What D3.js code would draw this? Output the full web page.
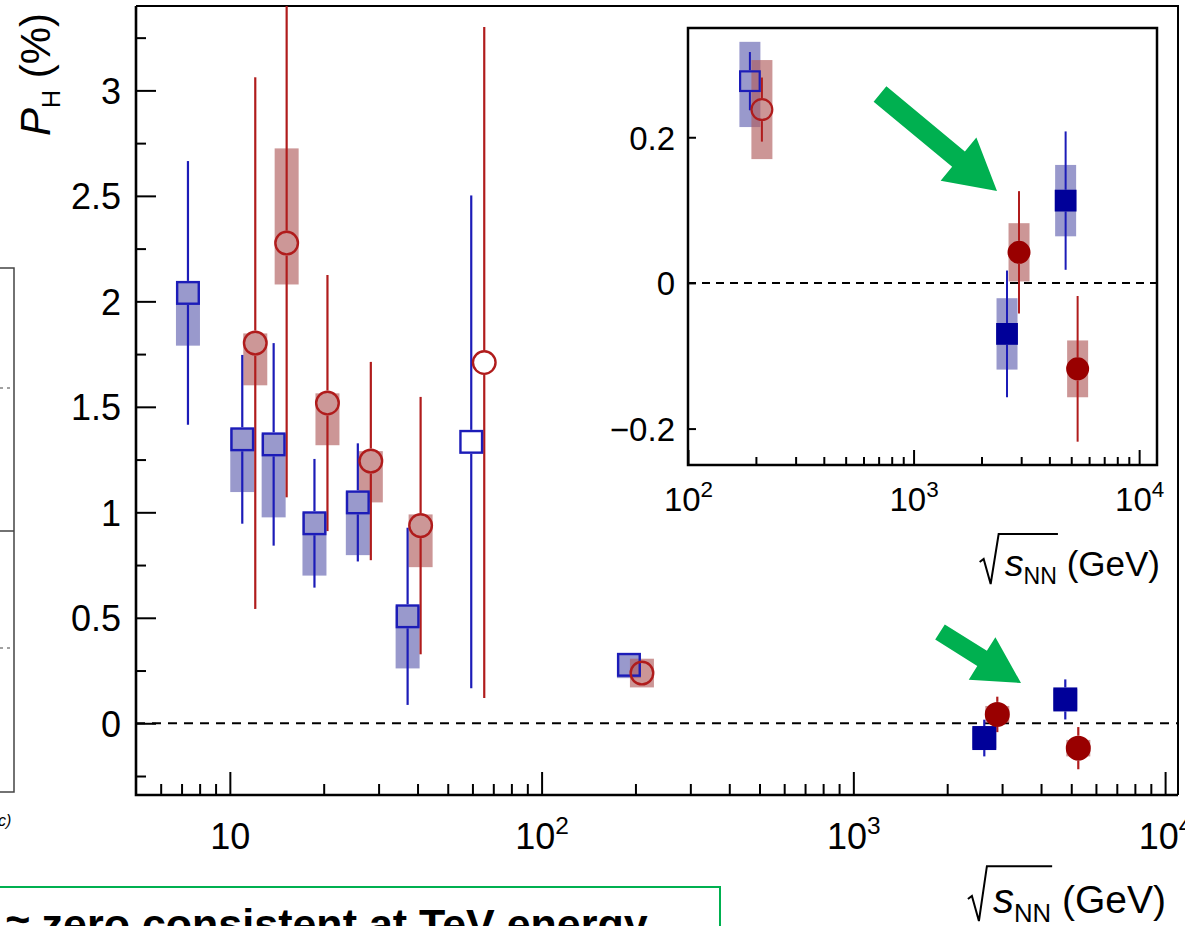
<!DOCTYPE html>
<html><head><meta charset="utf-8">
<script src="https://cdn.jsdelivr.net/npm/d3@7"></script>
<style>
html,body{margin:0;padding:0;background:#fff;overflow:hidden}
svg{display:block;font-family:"Liberation Sans",Arial,Helvetica,sans-serif}
</style></head><body>
<svg id="c" width="1185" height="926"></svg>
<script>
// Global hyperon polarization P_H (%) versus collision energy sqrt(s_NN)

// Lambda, beam-energy-scan points (filled light squares)
const lamEnergy = [7.7, 11.5, 14.5, 19.6, 27, 39];
const lamP      = [2.04, 1.346, 1.322, 0.948, 1.047, 0.507];
const lamStat   = [0.625, 0.40, 0.48, 0.305, 0.28, 0.42];
const lamSysUp  = [0.05, 0.05, 0.05, 0.05, 0.05, 0.05];
const lamSysDn  = [0.25, 0.25, 0.346, 0.248, 0.25, 0.247];

// anti-Lambda, beam-energy-scan points (filled light circles)
const alamEnergy = [11.5, 14.5, 19.6, 27, 39];
const alamP      = [1.802, 2.276, 1.518, 1.243, 0.937];
const alamStat   = [1.26, 1.205, 0.607, 0.47, 0.61];
const alamSysUp  = [0.046, 0.449, 0.046, 0.047, 0.053];
const alamSysDn  = [0.20, 0.196, 0.20, 0.196, 0.197];

// Lambda / anti-Lambda at 62.4 and 200 GeV (open markers)
const lamOpenEnergy  = [62.4, 200];
const lamOpenP       = [1.334, 0.277];
const lamOpenStat    = [1.168, 0.04];
const lamOpenSysUp   = [0, 0.054];
const lamOpenSysDn   = [0, 0.063];
const alamOpenEnergy = [62.4, 200];
const alamOpenP      = [1.71, 0.238];
const alamOpenStat   = [1.59, 0.044];
const alamOpenSysUp  = [0, 0.068];
const alamOpenSysDn  = [0, 0.068];

// Lambda / anti-Lambda at TeV energies (solid markers)
const lamTevEnergy  = [2760, 5020];
const lamTevP       = [-0.070, 0.113];
const lamTevStat    = [0.087, 0.095];
const lamTevSys     = [0.049, 0.049];
const alamTevEnergy = [2760, 5020];
const alamTevP      = [0.042, -0.118];
const alamTevStat   = [0.084, 0.10];
const alamTevSys    = [0.04, 0.039];

// axis ticks and labels
const mainYTicks   = [0, 0.5, 1, 1.5, 2, 2.5, 3];
const mainYLabels  = ["0", "0.5", "1", "1.5", "2", "2.5", "3"];
const mainXTicks   = [10, 100, 1000, 10000];
const mainXLabels  = [["10", ""], ["10", "2"], ["10", "3"], ["10", "4"]];
const insetYTicks  = [-0.2, 0, 0.2];
const insetYLabels = ["\u22120.2", "0", "0.2"];
const insetXTicks  = [100, 1000, 10000];
const insetXLabels = [["10", "2"], ["10", "3"], ["10", "4"]];
const noteText = "\u2248 zero consistent at TeV energy";

const C = {
  blueLine: "#1c1cb8", redLine: "#b01c1c",
  blueBox: "rgba(98,98,176,0.65)", redBox: "rgba(176,93,93,0.65)",
  blueFill: "#9999cc", redFill: "#cc9797",
  blueSolid: "#000099", redSolid: "#990000",
  green: "#00b050"
};

function series(E, P, stat, up, dn, shape, fill, stroke, line, box, side) {
  return E.map((e, i) => ({ e, p: P[i], s: stat[i], up: up[i], dn: dn[i],
    shape, fill, stroke, line, box, side }));
}
const points = [
  ...series(lamEnergy, lamP, lamStat, lamSysUp, lamSysDn, "sq", C.blueFill, C.blueLine, C.blueLine, C.blueBox, -1),
  ...series(alamEnergy, alamP, alamStat, alamSysUp, alamSysDn, "ci", C.redFill, C.redLine, C.redLine, C.redBox, 1),
  ...series(lamOpenEnergy, lamOpenP, lamOpenStat, lamOpenSysUp, lamOpenSysDn, "sq", "none", C.blueLine, C.blueLine, C.blueBox, -1),
  ...series(alamOpenEnergy, alamOpenP, alamOpenStat, alamOpenSysUp, alamOpenSysDn, "ci", "none", C.redLine, C.redLine, C.redBox, 1),
  ...series(lamTevEnergy, lamTevP, lamTevStat, lamTevSys, lamTevSys, "sq", C.blueSolid, C.blueSolid, C.blueLine, C.blueBox, -1),
  ...series(alamTevEnergy, alamTevP, alamTevStat, alamTevSys, alamTevSys, "ci", C.redSolid, C.redSolid, C.redLine, C.redBox, 1)
];

const svg = d3.select("#c");
svg.append("rect").attr("width", 1185).attr("height", 926).attr("fill", "#fff");
const defs = svg.append("defs");

// ---------- helpers ----------
function minorLog(lo, hi) {
  const out = [];
  for (let d = Math.pow(10, Math.floor(Math.log10(lo))); d < hi; d *= 10)
    for (let k = 2; k <= 9; k++) { const v = k * d; if (v > lo && v < hi) out.push(v); }
  return out;
}
function styleAxis(g, fs) {
  g.attr("font-family", null).attr("font-size", fs).attr("fill", null);
  g.select(".domain").remove();
  g.selectAll(".tick line").attr("stroke", "#000").attr("stroke-width", 2);
  g.selectAll(".tick text").attr("fill", "#000");
}
function powLabels(g, labels, fs, baseline) {
  g.selectAll(".tick text").each(function (d, i) {
    const t = d3.select(this).text(null).attr("y", baseline).attr("dy", null);
    t.append("tspan").text(labels[i][0]);
    if (labels[i][1]) t.append("tspan").attr("dy", -0.42 * fs).attr("font-size", fs * 0.68).text(labels[i][1]);
  });
}
function drawPoints(root, pts, x, y, cfg) {
  const gb = root.append("g"), gl = root.append("g"), gm = root.append("g");
  const cx = d => x(d.e) + d.side * cfg.off;
  gb.selectAll("rect").data(pts.filter(d => d.up + d.dn > 0)).join("rect")
    .attr("x", d => cx(d) - cfg.boxW / 2).attr("width", cfg.boxW)
    .attr("y", d => y(d.p + d.up)).attr("height", d => y(d.p - d.dn) - y(d.p + d.up))
    .attr("fill", d => d.box);
  // statistical bars stop at the marker edge
  const segs = [];
  pts.forEach(d => {
    const gap = (d.shape === "sq" ? cfg.half : cfg.r) + cfg.mlw / 2;
    const yc = y(d.p), yt = y(d.p + d.s), yb = y(d.p - d.s);
    if (yc - gap > yt) segs.push({ d, a: yt, b: yc - gap });
    if (yc + gap < yb) segs.push({ d, a: yc + gap, b: yb });
  });
  gl.selectAll("line").data(segs).join("line")
    .attr("x1", s => cx(s.d)).attr("x2", s => cx(s.d))
    .attr("y1", s => s.a).attr("y2", s => s.b)
    .attr("stroke", s => s.d.line).attr("stroke-width", cfg.lw);
  gm.selectAll("rect").data(pts.filter(d => d.shape === "sq")).join("rect")
    .attr("x", d => cx(d) - cfg.half).attr("y", d => y(d.p) - cfg.half)
    .attr("width", 2 * cfg.half).attr("height", 2 * cfg.half)
    .attr("fill", d => d.fill).attr("stroke", d => d.stroke).attr("stroke-width", cfg.mlw);
  gm.selectAll("circle").data(pts.filter(d => d.shape === "ci")).join("circle")
    .attr("cx", cx).attr("cy", d => y(d.p)).attr("r", cfg.r)
    .attr("fill", d => d.fill).attr("stroke", d => d.stroke).attr("stroke-width", cfg.mlw);
}
function sqrtTitle(g, xRight, base, fs) {
  const t = g.append("text").attr("y", base).attr("font-size", fs).attr("fill", "#000");
  t.append("tspan").attr("font-style", "italic").attr("font-size", fs * 1.08).text("s");
  t.append("tspan").attr("font-size", fs * 0.66).attr("dy", fs * 0.22).text("NN");
  t.append("tspan").attr("dy", -fs * 0.22).text("\u00a0(GeV)");
  const len = t.node().getComputedTextLength();
  const x0 = xRight - len;
  t.attr("x", x0);
  const xe = t.node().getEndPositionOfChar(2).x;
  const top = base - fs * 1.2;
  g.append("path")
    .attr("d", `M${x0 - 25},${base - 14} L${x0 - 21},${base - 17} L${x0 - 14},${base + 8} L${x0 - 6},${top} L${xe + 1},${top}`)
    .attr("fill", "none").attr("stroke", "#000").attr("stroke-width", 2);
}
function arrow(g, x0, y0, x1, y1, sw, hw, hl) {
  const L = Math.hypot(x1 - x0, y1 - y0), ux = (x1 - x0) / L, uy = (y1 - y0) / L;
  const px = -uy, py = ux, bx = x1 - ux * hl, by = y1 - uy * hl;
  const p = [[x0 + px * sw / 2, y0 + py * sw / 2], [bx + px * sw / 2, by + py * sw / 2],
             [bx + px * hw / 2, by + py * hw / 2], [x1, y1],
             [bx - px * hw / 2, by - py * hw / 2], [bx - px * sw / 2, by - py * sw / 2],
             [x0 - px * sw / 2, y0 - py * sw / 2]];
  g.append("polygon").attr("points", p.map(q => q.join(",")).join(" ")).attr("fill", C.green);
}

// ---------- neighbouring panel edge (left) ----------
const side = svg.append("g").attr("stroke", "#444").attr("stroke-width", 1.5).attr("fill", "none");
side.append("path").attr("d", "M-2,268 H14 V792 H-2 M-2,531 H14");
side.append("path").attr("d", "M0,388 H12 M0,648 H12").attr("stroke-dasharray", "3,4").attr("stroke-width", 1.2);
svg.append("text").attr("x", -2).attr("y", 826).attr("font-size", 16).attr("font-style", "italic").text("c)");

// ---------- main panel ----------
const xM = d3.scaleLog().domain([5, 11000]).range([136, 1178]);
const yM = d3.scaleLinear().domain([-0.34, 3.40]).range([795, 6]);
defs.append("clipPath").attr("id", "clipMain").append("rect")
  .attr("x", 136).attr("y", 6).attr("width", 1042).attr("height", 789);

const main = svg.append("g");
main.append("line").attr("x1", 136).attr("x2", 1178).attr("y1", yM(0)).attr("y2", yM(0))
  .attr("stroke", "#000").attr("stroke-width", 2).attr("stroke-dasharray", "9,7");

main.append("g").attr("transform", "translate(136,0)")
  .call(d3.axisLeft(yM).tickValues(mainYTicks).tickSizeInner(-20).tickSizeOuter(0).tickPadding(15)
    .tickFormat((d, i) => mainYLabels[i]))
  .call(g => styleAxis(g, 36))
  .call(g => g.selectAll(".tick text").attr("dy", "0.36em"));
main.append("g").attr("transform", "translate(136,0)")
  .call(d3.axisLeft(yM).tickValues(d3.range(-0.25, 3.4, 0.5)).tickSizeInner(-10).tickSizeOuter(0).tickFormat(""))
  .call(g => styleAxis(g, 10));
main.append("g").attr("transform", "translate(0,795)")
  .call(d3.axisBottom(xM).tickValues(mainXTicks).tickSizeInner(-23).tickSizeOuter(0))
  .call(g => styleAxis(g, 36))
  .call(g => powLabels(g, mainXLabels, 36, 54));
main.append("g").attr("transform", "translate(0,795)")
  .call(d3.axisBottom(xM).tickValues(minorLog(5, 11000)).tickSizeInner(-11).tickSizeOuter(0).tickFormat(""))
  .call(g => styleAxis(g, 10));

// frame
main.append("path").attr("d", "M136,6 H1178 V795").attr("fill", "none").attr("stroke", "#000").attr("stroke-width", 2);
main.append("path").attr("d", "M136,6 V795 H1178").attr("fill", "none").attr("stroke", "#000").attr("stroke-width", 2.6);

drawPoints(main.append("g").attr("clip-path", "url(#clipMain)"), points, xM, yM,
  { off: 6.5, boxW: 24, half: 10.8, r: 11.3, lw: 2.2, mlw: 2.4 });

// y title
const yt = svg.append("text").attr("transform", "translate(50,136) rotate(-90)")
  .attr("font-size", 42).attr("fill", "#000");
yt.append("tspan").attr("font-style", "italic").text("P");
yt.append("tspan").attr("font-size", 25).attr("dy", 10).text("H");
yt.append("tspan").attr("dy", -10).text("\u00a0(%)");

sqrtTitle(svg.append("g"), 1166, 913, 39);

// ---------- inset ----------
const xI = d3.scaleLog().domain([100, 12000]).range([688, 1157]);
const yI = d3.scaleLinear().domain([-0.25, 0.35]).range([465, 28]);
const inset = svg.append("g");
inset.append("rect").attr("x", 688).attr("y", 28).attr("width", 469).attr("height", 437).attr("fill", "#fff");
inset.append("line").attr("x1", 688).attr("x2", 1157).attr("y1", yI(0)).attr("y2", yI(0))
  .attr("stroke", "#000").attr("stroke-width", 2).attr("stroke-dasharray", "8,6");
inset.append("g").attr("transform", "translate(688,0)")
  .call(d3.axisLeft(yI).tickValues(insetYTicks).tickSizeInner(-8).tickSizeOuter(0).tickPadding(13)
    .tickFormat((d, i) => insetYLabels[i]))
  .call(g => styleAxis(g, 33))
  .call(g => g.selectAll(".tick text").attr("dy", "0.36em"));
inset.append("g").attr("transform", "translate(0,465)")
  .call(d3.axisBottom(xI).tickValues(insetXTicks).tickSizeInner(-15).tickSizeOuter(0))
  .call(g => styleAxis(g, 33))
  .call(g => powLabels(g, insetXLabels, 33, 46));
inset.append("g").attr("transform", "translate(0,465)")
  .call(d3.axisBottom(xI).tickValues(minorLog(100, 12000)).tickSizeInner(-8).tickSizeOuter(0).tickFormat(""))
  .call(g => styleAxis(g, 10));
inset.append("rect").attr("x", 688).attr("y", 28).attr("width", 469).attr("height", 437)
  .attr("fill", "none").attr("stroke", "#000").attr("stroke-width", 2.5);
drawPoints(inset.append("g"), points.filter(d => d.e >= 100), xI, yI,
  { off: 6, boxW: 21, half: 9.8, r: 10.4, lw: 2, mlw: 2.2 });
sqrtTitle(svg.append("g"), 1160, 576, 35);

// ---------- annotation arrows ----------
arrow(svg, 880, 94, 997, 191, 20, 56, 50);
arrow(svg, 940, 632, 1021, 683, 18, 50, 46);

// ---------- note box ----------
svg.append("rect").attr("x", -3).attr("y", 887).attr("width", 723).attr("height", 80)
  .attr("fill", "none").attr("stroke", C.green).attr("stroke-width", 2);
svg.append("text").attr("x", 6).attr("y", 939).attr("font-size", 43).attr("font-weight", "bold")
  .attr("fill", "#000").text(noteText);
</script>
</body></html>
